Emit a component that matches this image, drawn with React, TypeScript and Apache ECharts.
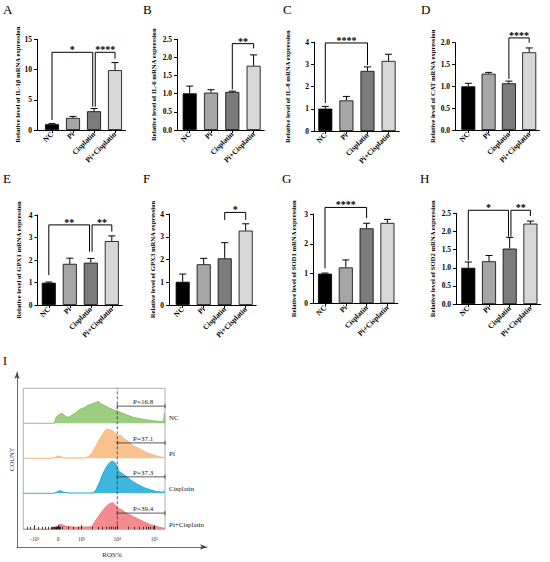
import React, { useEffect, useRef } from 'react';
import * as echarts from 'echarts';

const FONT = "'Liberation Serif', 'Times New Roman', 'DejaVu Serif', serif";

// ---------- bar panels data ----------
const categories = ['NC', 'Pi', 'Cisplatin', 'Pi+Cisplatin'];
const barColors = ['#000000', '#a6a6a6', '#7c7c7c', '#d7d7d7'];

const il1bMean = [0.95, 2.0, 3.1, 9.9];
const il1bErr = [0.1, 0.25, 0.45, 1.25];
const il1bSig: any[] = [[0, 1.94, 12.85, 1.65, 3.85, '*'], [2.06, 3, 12.85, 3.85, 11.8, '****']];

const il6Mean = [1.01, 1.03, 1.05, 1.77];
const il6Err = [0.2, 0.08, 0.02, 0.3];
const il6Sig: any[] = [[2, 3, 2.38, 1.12, 2.25, '**']];

const il8Mean = [1.01, 1.38, 2.71, 3.16];
const il8Err = [0.1, 0.18, 0.18, 0.3];
const il8Sig: any[] = [[0, 2, 3.97, 1.26, 2.97, '****']];

const catMean = [1.0, 1.29, 1.07, 1.78];
const catErr = [0.07, 0.03, 0.05, 0.1];
const catSig: any[] = [[2, 3, 2.11, 1.17, 2.0, '****']];

const gpx1Mean = [0.99, 1.83, 1.88, 2.84];
const gpx1Err = [0.03, 0.25, 0.19, 0.23];
const gpx1Sig: any[] = [[0, 1.94, 3.56, 1.33, 2.37, '**'], [2.06, 3, 3.56, 2.37, 3.26, '**']];

const gpx3Mean = [1.02, 1.79, 2.05, 3.27];
const gpx3Err = [0.34, 0.26, 0.69, 0.3];
const gpx3Sig: any[] = [[2, 3, 4.07, 3.74, 3.74, '*']];

const sod1Mean = [1.0, 1.21, 2.52, 2.7];
const sod1Err = [0.02, 0.25, 0.17, 0.12];
const sod1Sig: any[] = [[0, 2, 3.22, 1.18, 2.86, '****']];

const sod2Mean = [1.0, 1.18, 1.53, 2.22];
const sod2Err = [0.16, 0.16, 0.31, 0.07];
const sod2Sig: any[] = [[0, 1.94, 2.59, 1.2, 1.86, '*'], [2.06, 3, 2.59, 1.86, 2.43, '**']];

const panels = [
  { yName: 'Relative level of IL-1β mRNA expression', mean: il1bMean, err: il1bErr, sig: il1bSig, yMax: 15, yStep: 5, dec: 0 },
  { yName: 'Relative level of IL-6 mRNA expression', mean: il6Mean, err: il6Err, sig: il6Sig, yMax: 2.5, yStep: 0.5, dec: 1 },
  { yName: 'Relative level of IL-8 mRNA expression', mean: il8Mean, err: il8Err, sig: il8Sig, yMax: 4, yStep: 1, dec: 0 },
  { yName: 'Relative level of CAT mRNA expression', mean: catMean, err: catErr, sig: catSig, yMax: 2, yStep: 0.5, dec: 1 },
  { yName: 'Relative level of GPX1 mRNA expression', mean: gpx1Mean, err: gpx1Err, sig: gpx1Sig, yMax: 4, yStep: 1, dec: 0 },
  { yName: 'Relative level of GPX3 mRNA expression', mean: gpx3Mean, err: gpx3Err, sig: gpx3Sig, yMax: 4, yStep: 1, dec: 0 },
  { yName: 'Relative level of SOD1 mRNA expression', mean: sod1Mean, err: sod1Err, sig: sod1Sig, yMax: 3, yStep: 1, dec: 0 },
  { yName: 'Relative level of SOD2 mRNA expression', mean: sod2Mean, err: sod2Err, sig: sod2Sig, yMax: 2.5, yStep: 0.5, dec: 1 },
];

// layout (pixels)
const layouts = [
  { axisX: 37, c0: 52, band: 21, top: 39.3, bottom: 130, nameGap: 13.5 },
  { axisX: 177, c0: 189.7, band: 21.3, top: 39.3, bottom: 130, nameGap: 20.5 },
  { axisX: 314, c0: 325.3, band: 21.1, top: 42.3, bottom: 131, nameGap: 23.5 },
  { axisX: 455, c0: 468.3, band: 20.3, top: 42.7, bottom: 130, nameGap: 19.5 },
  { axisX: 37.5, c0: 48.8, band: 21, top: 215, bottom: 305, nameGap: 16 },
  { axisX: 169, c0: 182.7, band: 21, top: 214, bottom: 305, nameGap: 12.5 },
  { axisX: 313, c0: 325, band: 20.8, top: 214, bottom: 303.5, nameGap: 16.5 },
  { axisX: 456, c0: 468.3, band: 20.7, top: 213.5, bottom: 304, nameGap: 20.5 },
];

const letters = [
  { t: 'A', x: 3, y: 3 }, { t: 'B', x: 143, y: 3 }, { t: 'C', x: 283, y: 3 }, { t: 'D', x: 421, y: 3 },
  { t: 'E', x: 3, y: 172 }, { t: 'F', x: 143, y: 172 }, { t: 'G', x: 282, y: 172 }, { t: 'H', x: 420, y: 172 },
  { t: 'I', x: 3, y: 355 },
];

// ---------- flow histogram data (x in display decades, y in % of row height) ----------
const histNC = [[-1.48, 0], [-0.16, 0], [-0.1, 14], [-0.02, 22], [0.08, 26], [0.16, 29], [0.3, 21], [0.44, 17], [0.58, 23], [0.72, 29], [0.94, 40], [1.15, 46], [1.29, 52], [1.43, 55], [1.57, 59], [1.72, 62], [1.85, 55], [2.0, 50], [2.14, 45], [2.36, 38], [2.53, 35], [2.71, 30], [2.92, 24], [3.21, 17], [3.49, 13], [3.77, 10], [4.06, 7], [4.34, 5], [4.46, 6], [4.5, 12], [4.53, 29], [4.55, 0]];
const histPi = [[-1.48, 0], [-0.3, 0], [-0.1, 3], [0.0, 7], [0.12, 4], [0.3, 1], [1.15, 1], [1.3, 5], [1.43, 14], [1.64, 38], [1.85, 64], [2.0, 79], [2.07, 84], [2.14, 83], [2.22, 80], [2.28, 81], [2.43, 71], [2.52, 66], [2.57, 64], [2.64, 67], [2.78, 57], [2.99, 48], [3.21, 35], [3.49, 26], [3.77, 16], [4.06, 9], [4.34, 4], [4.55, 2]];
const histCis = [[-1.48, 0], [-0.2, 0], [-0.05, 4], [0.09, 8], [0.25, 3], [0.5, 1], [1.5, 1], [1.62, 11], [1.77, 33], [1.91, 57], [2.06, 76], [2.2, 88], [2.3, 92], [2.42, 88], [2.52, 76], [2.6, 62], [2.71, 57], [2.92, 48], [3.13, 36], [3.35, 27], [3.63, 17], [3.92, 10], [4.2, 5], [4.48, 3], [4.52, 8], [4.55, 8]];
const histPiCis = [[-1.48, 0], [-0.3, 0], [-0.1, 6], [0.09, 14], [0.3, 9], [0.65, 6], [1.06, 6], [1.43, 7], [1.62, 26], [1.86, 49], [2.07, 65], [2.21, 72], [2.33, 74], [2.43, 68], [2.57, 58], [2.71, 54], [2.92, 44], [3.21, 35], [3.49, 26], [3.77, 17], [4.06, 10], [4.34, 5], [4.55, 3]];

const rowNames = ['NC', 'Pi', 'Cisplatin', 'Pi+Cisplatin'];
const gateLabels = ['P=16.8', 'P=37.1', 'P=37.3', 'P=39.4'];
const gateHeights = [49, 44, 47, 45];
const rowLabelHeights = [15, 12, 12, 12];
const gateStart = 2.52;
const histMin = -1.48;
const histMax = 4.55;
const majorTicksU = [-1, 0, 1, 2.52, 4.1];
const majorTickLabels = ['-10³', '0', '10³', '10⁴', '10⁵'];
const minorTicksU = [-1.3, -1.2, -0.84, -0.69, -0.55, -0.41, -0.3, -0.24, -0.2, -0.16, -0.12, -0.09, -0.06, -0.03, 0.03, 0.06, 0.09, 0.16, 0.44, 0.65, 0.86, 1.45, 1.72, 1.9, 2.05, 2.17, 2.27, 2.35, 2.43, 2.98, 3.26, 3.46, 3.62, 3.75, 3.85, 3.94, 4.03];

const rowFills = ['#9ccd80', '#f9c28f', '#3fb6de', '#f38b8e'];
const rowLines = ['#86c068', '#f4ae73', '#22a8d6', '#ee7378'];
const rowTops = [388.3, 423.3, 458.3, 493.3];
const rowHeights = [35, 35, 35, 36];
const boxLeft = 23.3;
const boxWidth = 141.7;

function buildOption() {
  const grid: any[] = [];
  const xAxis: any[] = [];
  const yAxis: any[] = [];
  const series: any[] = [];
  const axisLineStyle = { color: '#000', width: 1 };

  panels.forEach((p, i) => {
    const L = layouts[i];
    const xMin = -(L.c0 - L.axisX) / L.band;
    const xMax = 3.5;
    grid.push({ left: L.axisX, top: L.top, width: (xMax - xMin) * L.band, height: L.bottom - L.top });
    xAxis.push({
      type: 'value', gridIndex: i, min: xMin, max: xMax,
      axisLine: { show: true, onZero: false, lineStyle: axisLineStyle },
      axisTick: { show: true, customValues: [0, 1, 2, 3], length: 3, lineStyle: axisLineStyle },
      axisLabel: {
        customValues: [0, 1, 2, 3],
        formatter: (v: number) => categories[Math.round(v)] ?? '',
        rotate: 45, fontSize: 7.5, fontWeight: 'bold', fontFamily: FONT, color: '#000', margin: 3,
      },
      splitLine: { show: false },
    });
    yAxis.push({
      type: 'value', gridIndex: i, min: 0, max: p.yMax, interval: p.yStep,
      axisLine: { show: true, onZero: false, lineStyle: axisLineStyle },
      axisTick: { show: true, length: 3, lineStyle: axisLineStyle },
      axisLabel: {
        fontSize: 7.5, fontWeight: 'bold', fontFamily: FONT, color: '#000', margin: 5,
        formatter: (v: number) => (p.dec ? v.toFixed(1) : String(v)),
      },
      splitLine: { show: false },
      name: p.yName, nameLocation: 'middle', nameGap: L.nameGap,
      nameTextStyle: { fontSize: 6.7, fontWeight: 'bold', fontFamily: FONT, color: '#000' },
    });
    series.push({
      type: 'bar', xAxisIndex: i, yAxisIndex: i, barWidth: 14,
      data: p.mean.map((v, j) => ({ value: [j, v], itemStyle: { color: barColors[j], borderColor: '#000', borderWidth: 0.8 } })),
    });
    series.push({
      type: 'custom', xAxisIndex: i, yAxisIndex: i, z: 3,
      data: p.mean.map((v, j) => [j, v, v + p.err[j]]),
      renderItem: (params: any, api: any) => {
        const x = api.value(0);
        const a = api.coord([x, api.value(1)]);
        const b = api.coord([x, api.value(2)]);
        return {
          type: 'group', children: [
            { type: 'line', shape: { x1: a[0], y1: a[1], x2: b[0], y2: b[1] }, style: { stroke: '#000', lineWidth: 1 } },
            { type: 'line', shape: { x1: b[0] - 3.5, y1: b[1], x2: b[0] + 3.5, y2: b[1] }, style: { stroke: '#000', lineWidth: 1 } },
          ],
        };
      },
    });
    series.push({
      type: 'custom', xAxisIndex: i, yAxisIndex: i, z: 4,
      data: p.sig.map((s: any[]) => [s[0], s[2]]),
      renderItem: (params: any, api: any) => {
        const s = p.sig[params.dataIndex];
        const p1 = api.coord([s[0], s[3]]);
        const p2 = api.coord([s[0], s[2]]);
        const p3 = api.coord([s[1], s[2]]);
        const p4 = api.coord([s[1], s[4]]);
        return {
          type: 'group', children: [
            { type: 'polyline', shape: { points: [p1, p2, p3, p4] }, style: { stroke: '#000', lineWidth: 1, fill: null } },
            {
              type: 'text', x: (p2[0] + p3[0]) / 2, y: p2[1] + 2.5,
              style: { text: s[5], fontSize: 10, fontWeight: 'bold', fontFamily: FONT, fill: '#000', align: 'center', verticalAlign: 'bottom' },
            },
          ],
        };
      },
    });
  });

  // ---------- flow histograms ----------
  const hists = [histNC, histPi, histCis, histPiCis];
  hists.forEach((h, k) => {
    const gi = grid.length;
    grid.push({ left: boxLeft, top: rowTops[k], width: boxWidth, height: rowHeights[k] });
    const isBottom = k === hists.length - 1;
    xAxis.push({
      type: 'value', gridIndex: gi, min: histMin, max: histMax, show: isBottom, position: 'bottom', z: 10,
      axisLine: { show: false, onZero: false },
      axisTick: { show: true, inside: true, customValues: majorTicksU, length: 4, lineStyle: { color: '#111', width: 0.9 } },
      axisLabel: {
        customValues: majorTicksU, fontSize: 5.5, fontFamily: FONT, color: '#333', margin: 7,
        formatter: (v: number) => {
          let best = 0;
          majorTicksU.forEach((m, idx) => { if (Math.abs(m - v) < Math.abs(majorTicksU[best] - v)) best = idx; });
          return majorTickLabels[best];
        },
      },
      splitLine: { show: false },
    });
    yAxis.push({ type: 'value', gridIndex: gi, min: 0, max: 100, show: false, splitLine: { show: false } });
    const axIdx = xAxis.length - 1;
    series.push({
      type: 'line', xAxisIndex: axIdx, yAxisIndex: gi, data: h, symbol: 'none', clip: false, z: 2,
      lineStyle: { color: rowLines[k], width: 0.9 },
      areaStyle: { color: rowFills[k], opacity: 1 },
    });
    series.push({
      type: 'custom', xAxisIndex: axIdx, yAxisIndex: gi, z: 6,
      data: [[gateStart, gateHeights[k]]],
      renderItem: (params: any, api: any) => {
        const a = api.coord([gateStart, gateHeights[k]]);
        const b = api.coord([histMax, gateHeights[k]]);
        const lab = api.coord([histMax, rowLabelHeights[k]]);
        return {
          type: 'group', children: [
            { type: 'line', shape: { x1: a[0], y1: a[1], x2: b[0], y2: b[1] }, style: { stroke: '#333', lineWidth: 0.8 } },
            { type: 'line', shape: { x1: a[0], y1: a[1] - 2, x2: a[0], y2: a[1] + 2 }, style: { stroke: '#333', lineWidth: 0.8 } },
            { type: 'line', shape: { x1: b[0], y1: b[1] - 2, x2: b[0], y2: b[1] + 2 }, style: { stroke: '#333', lineWidth: 0.8 } },
            {
              type: 'text', x: (a[0] + b[0]) / 2 + 2, y: a[1] - 0.5,
              style: { text: gateLabels[k], fontSize: 7, fontFamily: FONT, fill: '#222', align: 'center', verticalAlign: 'bottom' },
            },
            {
              type: 'text', x: lab[0] + 4, y: lab[1],
              style: { text: rowNames[k], fontSize: 7, fontFamily: FONT, fill: '#222', align: 'left', verticalAlign: 'middle' },
            },
          ],
        };
      },
    });
    if (isBottom) {
      xAxis.push({
        type: 'value', gridIndex: gi, min: histMin, max: histMax, position: 'bottom', z: 10,
        axisLine: { show: false, onZero: false },
        axisTick: { show: true, inside: true, customValues: minorTicksU, length: 2.5, lineStyle: { color: '#111', width: 0.8 } },
        axisLabel: { show: false },
        splitLine: { show: false },
      });
    }
  });

  // outer box with dashed gate line
  const boxGi = grid.length;
  grid.push({
    left: boxLeft, top: rowTops[0], width: boxWidth,
    height: rowTops[3] + rowHeights[3] - rowTops[0],
    show: true, borderColor: '#9a9a9a', borderWidth: 0.8, backgroundColor: 'transparent',
  });
  xAxis.push({ type: 'value', gridIndex: boxGi, min: histMin, max: histMax, show: false });
  yAxis.push({ type: 'value', gridIndex: boxGi, min: 0, max: 1, show: false });
  series.push({
    type: 'custom', xAxisIndex: xAxis.length - 1, yAxisIndex: yAxis.length - 1, z: 7,
    data: [[gateStart, 0]],
    renderItem: (params: any, api: any) => {
      const a = api.coord([gateStart, 0]);
      const b = api.coord([gateStart, 1]);
      return { type: 'line', shape: { x1: a[0], y1: a[1], x2: b[0], y2: b[1] }, style: { stroke: '#333', lineWidth: 0.8, lineDash: [3, 2] } };
    },
  });

  // arrow axes (COUNT / ROS%)
  const arrGi = grid.length;
  grid.push({ left: 17, top: 372, width: 190, height: 175 });
  const arrowLine = { show: true, onZero: false, symbol: ['none', 'arrow'], symbolSize: [4, 7], lineStyle: { color: '#444', width: 0.8 } };
  xAxis.push({
    type: 'value', gridIndex: arrGi, min: 0, max: 1, axisLine: arrowLine,
    axisTick: { show: false }, axisLabel: { show: false }, splitLine: { show: false },
    name: 'ROS%', nameLocation: 'middle', nameGap: 4,
    nameTextStyle: { fontSize: 7, fontFamily: FONT, color: '#222' },
  });
  yAxis.push({
    type: 'value', gridIndex: arrGi, min: 0, max: 1, axisLine: arrowLine,
    axisTick: { show: false }, axisLabel: { show: false }, splitLine: { show: false },
    name: 'COUNT', nameLocation: 'middle', nameGap: 2,
    nameTextStyle: { fontSize: 6.7, fontFamily: FONT, color: '#222' },
  });

  const graphic = letters.map((l) => ({
    type: 'text', left: l.x, top: l.y,
    style: { text: l.t, fontSize: l.t === 'I' ? 12 : 13, fontFamily: FONT, fill: '#000' },
  }));

  return { animation: false, backgroundColor: '#fff', grid, xAxis, yAxis, series, graphic };
}

export default function App() {
  const ref = useRef<HTMLDivElement>(null);
  useEffect(() => {
    document.body.style.margin = '0';
    document.body.style.overflow = 'hidden';
    if (!ref.current) return;
    const chart = echarts.init(ref.current, null, { renderer: 'svg' });
    chart.setOption(buildOption() as any);
    return () => chart.dispose();
  }, []);
  return <div ref={ref} style={{ width: 550, height: 562 }} />;
}
